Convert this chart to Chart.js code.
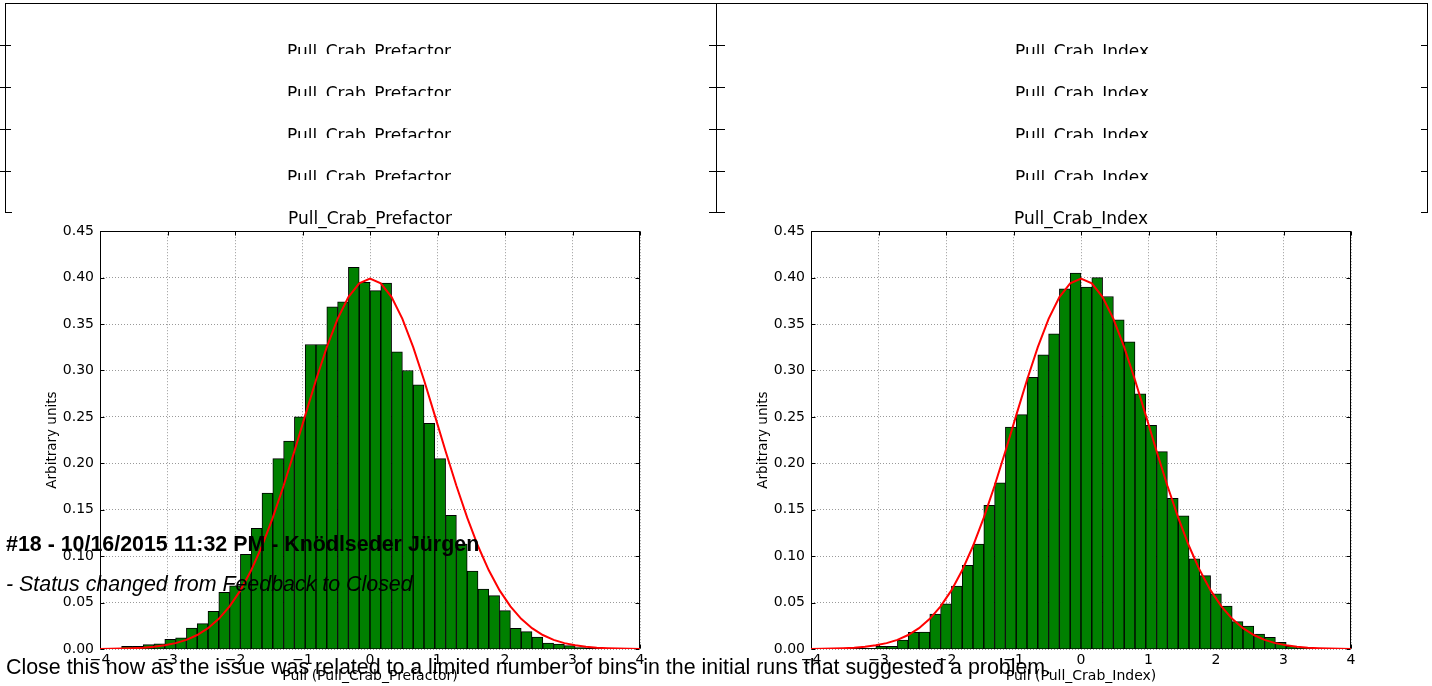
<!DOCTYPE html>
<html>
<head>
<meta charset="utf-8">
<title>Pull distributions</title>
<script src="https://cdn.jsdelivr.net/npm/chart.js@4.4.0/dist/chart.umd.min.js"></script>
<style>
    body {
        margin: 0;
        width: 1432px;
        height: 686px;
        overflow: hidden;
        background: #fff;
        position: relative;
        font-family: "Liberation Sans", Arial, sans-serif;
    }
    canvas { position: absolute; top: 200px; z-index: 1; }
    #chartPrefactor { left: 0; }
    #chartIndex { left: 711px; }
    .rule { position: absolute; background: #000; z-index: 2; }
    .clip {
        position: absolute;
        height: 9.5px;
        overflow: hidden;
        text-align: center;
        font: 17px/20px "DejaVu Sans", sans-serif;
        color: #000;
        z-index: 2;
    }
    .clip span { display: block; margin-top: -2.6px; }
    .note {
        position: absolute;
        left: 6px;
        font-size: 21.4px;
        line-height: 21px;
        color: #000;
        white-space: nowrap;
        z-index: 3;
    }
</style>
</head>
<body>

<canvas id="chartPrefactor" width="700" height="486"></canvas>
<canvas id="chartIndex" width="700" height="486"></canvas>

<div class="note" style="top:534px;font-weight:bold">#18 - 10/16/2015 11:32 PM - Knödlseder Jürgen</div>
<div class="note" style="top:574px;font-style:italic">- Status changed from Feedback to Closed</div>
<div class="note" style="top:657px">Close this now as the issue was related to a limited number of bins in the initial runs that suggested a problem.</div>

<script>
// Histogram bins: 50 bins of width 0.16 between -4 and 4 (centres)
const binCenters = [
    -3.92, -3.76, -3.60, -3.44, -3.28, -3.12, -2.96, -2.80, -2.64, -2.48,
    -2.32, -2.16, -2.00, -1.84, -1.68, -1.52, -1.36, -1.20, -1.04, -0.88,
    -0.72, -0.56, -0.40, -0.24, -0.08, 0.08, 0.24, 0.40, 0.56, 0.72,
    0.88, 1.04, 1.20, 1.36, 1.52, 1.68, 1.84, 2.00, 2.16, 2.32,
    2.48, 2.64, 2.80, 2.96, 3.12, 3.28, 3.44, 3.60, 3.76, 3.92
];

// Normalised counts, Pull_Crab_Prefactor
const prefactorValues = [
    0, 0, 0.003, 0.003, 0.0047, 0.0057, 0.0105, 0.012, 0.0224, 0.0273,
    0.0405, 0.061, 0.068, 0.102, 0.130, 0.168, 0.205, 0.224, 0.250, 0.328,
    0.328, 0.3685, 0.374, 0.411, 0.395, 0.386, 0.394, 0.320, 0.300, 0.2845,
    0.243, 0.205, 0.144, 0.113, 0.084, 0.0646, 0.0575, 0.0413, 0.0223, 0.0187,
    0.0129, 0.0065, 0.0054, 0.0036, 0.0015, 0, 0, 0, 0, 0
];

// Normalised counts, Pull_Crab_Index
const indexValues = [
    0, 0, 0, 0, 0, 0.0005, 0.003, 0.003, 0.0095, 0.018,
    0.0183, 0.0375, 0.0487, 0.0679, 0.090, 0.113, 0.1548, 0.179, 0.239, 0.2525,
    0.2926, 0.3168, 0.3394, 0.3879, 0.4048, 0.3897, 0.400, 0.3797, 0.3545, 0.3308,
    0.2748, 0.241, 0.2126, 0.1623, 0.1433, 0.097, 0.079, 0.0593, 0.0463, 0.0294,
    0.0248, 0.0162, 0.0126, 0.0072, 0.003, 0.001, 0, 0, 0, 0
];

// Red reference curve (unit gaussian), sampled at the bin edges
const fitX = [
    -4.00, -3.84, -3.68, -3.52, -3.36, -3.20, -3.04, -2.88, -2.72, -2.56,
    -2.40, -2.24, -2.08, -1.92, -1.76, -1.60, -1.44, -1.28, -1.12, -0.96,
    -0.80, -0.64, -0.48, -0.32, -0.16, 0.00, 0.16, 0.32, 0.48, 0.64,
    0.80, 0.96, 1.12, 1.28, 1.44, 1.60, 1.76, 1.92, 2.08, 2.24,
    2.40, 2.56, 2.72, 2.88, 3.04, 3.20, 3.36, 3.52, 3.68, 3.84, 4.00
];
const fitY = [
    0.00013, 0.00025, 0.00046, 0.00081, 0.00141, 0.00238, 0.00393, 0.00631, 0.00987, 0.01506,
    0.02239, 0.03246, 0.04586, 0.06316, 0.08478, 0.11092, 0.14146, 0.17585, 0.21307, 0.25164,
    0.28969, 0.32506, 0.35553, 0.37903, 0.39387, 0.39894, 0.39387, 0.37903, 0.35553, 0.32506,
    0.28969, 0.25164, 0.21307, 0.17585, 0.14146, 0.11092, 0.08478, 0.06316, 0.04586, 0.03246,
    0.02239, 0.01506, 0.00987, 0.00631, 0.00393, 0.00238, 0.00141, 0.00081, 0.00046, 0.00025, 0.00013
];

// Tick labels
const xTickLabels = ['\u22124', '\u22123', '\u22122', '\u22121', '0', '1', '2', '3', '4'];
const yTickLabels = ['0.00', '0.05', '0.10', '0.15', '0.20', '0.25', '0.30', '0.35', '0.40', '0.45'];

Chart.defaults.font.family = '"DejaVu Sans", sans-serif';
Chart.defaults.color = '#000';

// Black box round the plot area with small inward ticks (matplotlib look)
const frameBox = {
    id: 'frameBox',
    beforeDatasetsDraw(chart) {
        const a = chart.chartArea;
        const c = chart.ctx;
        const xs = chart.scales.x;
        const ys = chart.scales.y;
        c.save();
        c.strokeStyle = '#000';
        c.lineWidth = 1;
        const L = Math.round(a.left) + 0.5, R = Math.round(a.right) - 0.5;
        const T = Math.round(a.top) + 0.5, B = Math.round(a.bottom) - 0.5;
        c.strokeRect(L, T, R - L, B - T);
        c.beginPath();
        xs.ticks.forEach(t => {
            const px = Math.round(xs.getPixelForValue(t.value)) + 0.5;
            c.moveTo(px, B); c.lineTo(px, B - 4);
            c.moveTo(px, T); c.lineTo(px, T + 4);
        });
        ys.ticks.forEach(t => {
            const py = Math.round(ys.getPixelForValue(t.value)) + 0.5;
            c.moveTo(L, py); c.lineTo(L + 4, py);
            c.moveTo(R, py); c.lineTo(R - 4, py);
        });
        c.stroke();
        c.restore();
    }
};

function makeHistogram(canvasId, titleText, axisText, binValues) {
    const ctx = document.getElementById(canvasId).getContext('2d');
    return new Chart(ctx, {
        type: 'bar',
        data: {
            datasets: [
                {
                    type: 'line',
                    data: fitX.map((x, i) => ({ x: x, y: fitY[i] })),
                    borderColor: '#ff0000',
                    borderWidth: 2,
                    pointRadius: 0,
                    tension: 0,
                    order: 0
                },
                {
                    type: 'bar',
                    data: binCenters.map((x, i) => ({ x: x, y: binValues[i] })),
                    backgroundColor: '#008000',
                    borderColor: '#000',
                    borderWidth: 1,
                    barPercentage: 1,
                    categoryPercentage: 1,
                    order: 1
                }
            ]
        },
        options: {
            responsive: false,
            animation: false,
            layout: { padding: { top: 0, left: 0, right: 60, bottom: 0 } },
            plugins: {
                legend: { display: false },
                tooltip: { enabled: false },
                title: {
                    display: true,
                    text: titleText,
                    fullSize: false,
                    color: '#000',
                    font: { size: 17, weight: 'normal' },
                    padding: { top: 9.6, bottom: 1.2 }
                }
            },
            scales: {
                x: {
                    type: 'linear',
                    min: -4,
                    max: 4,
                    offset: false,
                    afterFit: s => { s.height = 37; },
                    ticks: {
                        stepSize: 1,
                        padding: 3,
                        font: { size: 14 },
                        callback: v => xTickLabels[Math.round(v) + 4]
                    },
                    grid: { color: '#999', drawTicks: false, offset: false },
                    border: { display: false, dash: [1, 2] },
                    title: {
                        display: true,
                        text: axisText,
                        font: { size: 14 },
                        padding: { top: 0, bottom: 1.6 }
                    }
                },
                y: {
                    min: 0,
                    max: 0.45,
                    afterFit: s => { s.width = 100; },
                    ticks: {
                        stepSize: 0.05,
                        padding: 6,
                        font: { size: 14 },
                        callback: v => yTickLabels[Math.round(v / 0.05)]
                    },
                    grid: { color: '#999', drawTicks: false },
                    border: { display: false, dash: [1, 2] },
                    title: {
                        display: true,
                        text: 'Arbitrary units',
                        font: { size: 13.5 },
                        padding: { top: 44, bottom: 0 }
                    }
                }
            }
        },
        plugins: [frameBox]
    });
}

makeHistogram('chartPrefactor', 'Pull_Crab_Prefactor', 'Pull (Pull_Crab_Prefactor)', prefactorValues);
makeHistogram('chartIndex', 'Pull_Crab_Index', 'Pull (Pull_Crab_Index)', indexValues);

// Remains of the table frame above the plots, with the clipped title rows
function addRule(left, top, width, height) {
    const d = document.createElement('div');
    d.className = 'rule';
    d.style.left = left + 'px';
    d.style.top = top + 'px';
    d.style.width = width + 'px';
    d.style.height = height + 'px';
    document.body.appendChild(d);
}

function addClippedTitle(text, left, width, top) {
    const d = document.createElement('div');
    d.className = 'clip';
    d.style.left = left + 'px';
    d.style.width = width + 'px';
    d.style.top = (top - 1) + 'px';
    const s = document.createElement('span');
    s.textContent = text;
    d.appendChild(s);
    document.body.appendChild(d);
}

addRule(5, 3, 1423, 1);
addRule(5, 3, 1, 210);
addRule(716, 3, 1, 210);
addRule(1427, 3, 1, 210);

const rowTops = [45, 87, 129, 171];
rowTops.forEach(y => {
    addRule(0, y, 11, 1);
    addRule(709, y, 16, 1);
    addRule(1421, y, 7, 1);
    addClippedTitle('Pull_Crab_Prefactor', 0, 738, y);
    addClippedTitle('Pull_Crab_Index', 722, 720, y);
});
addRule(5, 212, 7, 1);
addRule(709, 212, 16, 1);
addRule(1421, 212, 7, 1);
</script>
</body>
</html>
